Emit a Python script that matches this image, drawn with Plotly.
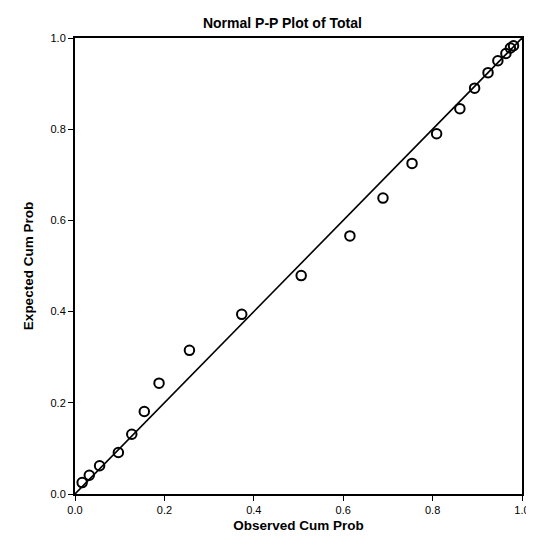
import plotly.graph_objects as go

# Observed vs expected cumulative probabilities
observed = [0.016, 0.032, 0.055, 0.097, 0.127, 0.155, 0.188, 0.256, 0.373, 0.506,
            0.615, 0.689, 0.754, 0.809, 0.861, 0.894, 0.924, 0.946, 0.964, 0.974, 0.981]
expected = [0.025, 0.041, 0.062, 0.091, 0.131, 0.181, 0.243, 0.315, 0.394, 0.479,
            0.566, 0.649, 0.725, 0.790, 0.845, 0.890, 0.924, 0.950, 0.966, 0.978, 0.983]
ref_line = [0.0, 1.0]
tick_vals = [0.0, 0.2, 0.4, 0.6, 0.8, 1.0]
tick_text = ["0.0", "0.2", "0.4", "0.6", "0.8", "1.0"]

fig = go.Figure()
fig.add_trace(go.Scatter(x=ref_line, y=ref_line, mode="lines",
                         line=dict(color="black", width=1.6), showlegend=False,
                         hoverinfo="skip"))
fig.add_trace(go.Scatter(x=observed, y=expected, mode="markers",
                         marker=dict(symbol="circle-open", size=9.5,
                                     line=dict(color="black", width=2), color="black"),
                         showlegend=False))

axis_common = dict(range=[0, 1], tickvals=tick_vals, ticktext=tick_text,
                   showgrid=False, zeroline=False, showline=True, mirror=True,
                   linecolor="black", linewidth=2, ticks="outside", ticklen=5,
                   tickwidth=1.2, tickcolor="black",
                   tickfont=dict(family="Liberation Sans, Arial", size=11, color="black"))

fig.update_layout(
    width=534, height=541,
    margin=dict(l=67, r=18, t=30, b=55),
    paper_bgcolor="white", plot_bgcolor="white",
    title=dict(text="<b>Normal P-P Plot of Total</b>", x=0.464, xanchor="center",
               xref="paper", yref="container", y=0.972, yanchor="middle",
               font=dict(family="Liberation Sans, Arial", size=14, color="black")),
    xaxis=dict(**axis_common,
               title=dict(text="<b>Observed Cum Prob</b>", standoff=5,
                          font=dict(family="Liberation Sans, Arial", size=13.5, color="black"))),
    yaxis=dict(**axis_common,
               title=dict(text="<b>Expected Cum Prob</b>", standoff=14,
                          font=dict(family="Liberation Sans, Arial", size=13.5, color="black"))),
)

fig.write_html("out.html")
